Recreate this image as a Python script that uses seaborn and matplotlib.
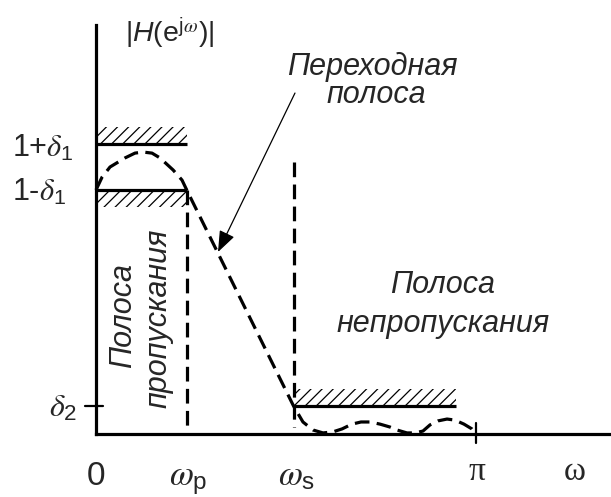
import matplotlib
matplotlib.use("Agg")
import matplotlib.pyplot as plt
import seaborn as sns
import numpy as np
import pandas as pd

# ---------------- data ----------------
omega_p = 0.75          # passband edge (rad)
omega_s = 1.633         # stopband edge (rad)
omega_max = np.pi
delta1 = 0.086
delta2 = 0.105
stop_line_end = 2.98

# dashed magnitude response
omega_curve = [0.0, 0.050, 0.116, 0.240, 0.322, 0.389, 0.463, 0.529, 0.637, 0.711, 0.75,
               1.633, 1.711, 1.794, 1.877, 1.959, 2.034, 2.116, 2.191, 2.265, 2.348,
               2.431, 2.488, 2.571, 2.637, 2.703, 2.761, 2.827, 2.902, 2.968, 3.042,
               3.108, 3.1416]
mag_curve = [0.914, 0.962, 1.000, 1.034, 1.052, 1.056, 1.052, 1.034, 0.989, 0.951, 0.914,
             0.105, 0.045, 0.015, 0.004, 0.008, 0.019, 0.037, 0.045, 0.045, 0.037,
             0.026, 0.015, 0.004, 0.004, 0.011, 0.034, 0.049, 0.056, 0.052, 0.037,
             0.019, 0.0]

tick_labels_x = ["0", r"$\omega_{\mathrm{p}}$", r"$\omega_{\mathrm{s}}$", "π", "ω"]
label_y_top = "1+" + r"$\delta_{\mathrm{1}}$"
label_y_low = "1-" + r"$\delta_{\mathrm{1}}$"
label_y_d2 = r"$\delta_{\mathrm{2}}$"
title_text = r"$\mathrm{|}\mathsf{H}\mathrm{(e}^{\mathrm{j}\omega}\mathrm{)|}$"

# ---------------- style ----------------
sns.set_style("white")
plt.rcParams["font.family"] = ["Liberation Sans", "DejaVu Sans"]
plt.rcParams["mathtext.fontset"] = "custom"
plt.rcParams["mathtext.rm"] = "Liberation Sans"
plt.rcParams["mathtext.it"] = "STIXGeneral:italic"
plt.rcParams["mathtext.sf"] = "Liberation Sans:italic"
plt.rcParams["mathtext.bf"] = "Liberation Sans:bold"
plt.rcParams["hatch.linewidth"] = 0.9

fig = plt.figure(figsize=(6.11, 4.97), dpi=100)
ax = fig.add_axes([0, 0, 1, 1])
px_x = 120.96   # px per rad
px_y = 267.0    # px per unit magnitude
ax.set_xlim(-96 / px_x, (611 - 96) / px_x)
ax.set_ylim(-(497 - 434) / px_y, 434 / px_y)
ax.axis("off")

K = "black"
LW = 2.3
dash = (0, (4.6, 2.3))

# axes lines
ax.plot([0, 0], [0, 1.532], color=K, lw=LW, solid_capstyle="projecting")
ax.plot([0, 10], [0, 0], color=K, lw=LW, solid_capstyle="projecting")

# ticks
ax.plot([-0.091, 0.058], [delta2, delta2], color=K, lw=1.6)
ax.plot([omega_max, omega_max], [0.041, -0.034], color=K, lw=1.6)

# tolerance lines
ax.plot([0, omega_p], [1 + delta1, 1 + delta1], color=K, lw=LW, solid_capstyle="butt")
ax.plot([0, omega_p], [1 - delta1, 1 - delta1], color=K, lw=LW, solid_capstyle="butt")
ax.plot([omega_s, stop_line_end], [delta2, delta2], color=K, lw=LW, solid_capstyle="butt")

# hatching
hh = 0.064
ax.fill_between([0, omega_p], 1 + delta1, 1 + delta1 + hh, facecolor="none",
                edgecolor=K, linewidth=0, hatch="///")
ax.fill_between([0, omega_p], 1 - delta1 - hh, 1 - delta1, facecolor="none",
                edgecolor=K, linewidth=0, hatch="///")
ax.fill_between([omega_s, stop_line_end], delta2, delta2 + hh, facecolor="none",
                edgecolor=K, linewidth=0, hatch="///")

# dashed verticals
ax.plot([omega_p, omega_p], [1 - delta1, 0.026], color=K, lw=LW, linestyle=dash)
ax.plot([omega_s, omega_s], [1.019, 0.026], color=K, lw=LW, linestyle=dash)

# response curve
df = pd.DataFrame({"omega": omega_curve, "mag": mag_curve})
sns.lineplot(data=df, x="omega", y="mag", sort=False, estimator=None, ax=ax,
             color=K, lw=LW, linestyle=dash)

# arrow
ax.annotate("", xy=(1.0086, 0.6816), xytext=(1.645, 1.277),
            arrowprops=dict(arrowstyle="-|>,head_length=13,head_width=5",
                            mutation_scale=1, lw=0.9, color=K,
                            shrinkA=0, shrinkB=0))

# texts
ax.text(0.24, 1.468, title_text, fontsize=20.5, ha="left", va="baseline")
ax.text(-0.694, 1.04, label_y_top, fontsize=22, ha="left", va="baseline")
ax.text(-0.694, 0.874, label_y_low, fontsize=22, ha="left", va="baseline")
ax.text(-0.390, 0.064, label_y_d2, fontsize=23, ha="left", va="baseline")

yb = -0.191
ax.text(0.0, yb, tick_labels_x[0], fontsize=24, ha="center", va="baseline")
ax.text(omega_p - 0.15, yb, tick_labels_x[1], fontsize=25, ha="left", va="baseline")
ax.text(omega_s - 0.13, yb, tick_labels_x[2], fontsize=25, ha="left", va="baseline")
ax.text(omega_max + 0.01, yb + 0.02, tick_labels_x[3], fontsize=24, ha="center",
        va="baseline", family="Liberation Serif")
ax.text(3.96, yb + 0.02, tick_labels_x[4], fontsize=24, ha="center",
        va="baseline", family="Liberation Serif")

ax.text(2.282, 1.345, "Переходная", fontsize=22, style="italic", ha="center", va="baseline")
ax.text(2.315, 1.240, "полоса", fontsize=22, style="italic", ha="center", va="baseline")

ax.text(0.289, 0.442, "Полоса", fontsize=22, style="italic", rotation=90,
        rotation_mode="anchor", ha="center", va="baseline")
ax.text(0.579, 0.434, "пропускания", fontsize=22, style="italic", rotation=90,
        rotation_mode="anchor", ha="center", va="baseline")

ax.text(2.869, 0.528, "Полоса", fontsize=22, style="italic", ha="center", va="baseline")
ax.text(2.869, 0.382, "непропускания", fontsize=22, style="italic", ha="center", va="baseline")

fig.savefig("out.png", dpi=100)
